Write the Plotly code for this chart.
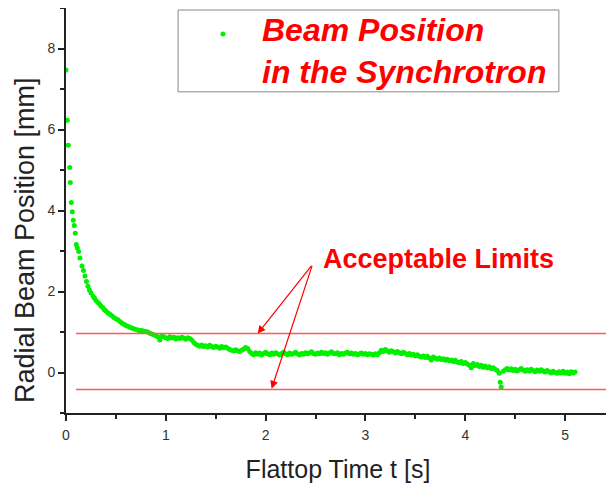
import plotly.graph_objects as go

#%% Data

# flattop time [s] and radial beam position [mm]
t_s = [0.000, 0.013, 0.023, 0.037, 0.043, 0.053, 0.063, 0.073, 0.083, 0.093,
       0.103, 0.113, 0.127, 0.140, 0.160, 0.175, 0.190, 0.205, 0.220, 0.235,
       0.250, 0.270, 0.285, 0.300, 0.320, 0.335, 0.350, 0.370, 0.385, 0.400,
       0.420, 0.440, 0.460, 0.480, 0.500, 0.520, 0.540, 0.560, 0.580, 0.600,
       0.620, 0.640, 0.660, 0.680, 0.700, 0.720, 0.740, 0.760, 0.780, 0.800,
       0.820, 0.840, 0.860, 0.880, 0.900, 0.920, 0.940, 0.960, 0.980,
       1.00, 1.02, 1.04, 1.06, 1.08, 1.10, 1.12, 1.14, 1.16, 1.18,
       1.20, 1.22, 1.24, 1.26, 1.28, 1.30, 1.32, 1.34, 1.36, 1.38,
       1.40, 1.42, 1.44, 1.46, 1.48, 1.50, 1.52, 1.54, 1.56, 1.58,
       1.60, 1.62, 1.64, 1.66, 1.68, 1.70, 1.72, 1.74, 1.76, 1.78,
       1.80, 1.82, 1.84, 1.86, 1.88, 1.90, 1.92, 1.94, 1.96, 1.98,
       2.00, 2.02, 2.04, 2.06, 2.08, 2.10, 2.12, 2.14, 2.16, 2.18,
       2.20, 2.22, 2.24, 2.26, 2.28, 2.30, 2.32, 2.34, 2.36, 2.38,
       2.40, 2.42, 2.44, 2.46, 2.48, 2.50, 2.52, 2.54, 2.56, 2.58,
       2.60, 2.62, 2.64, 2.66, 2.68, 2.70, 2.72, 2.74, 2.76, 2.78,
       2.80, 2.82, 2.84, 2.86, 2.88, 2.90, 2.92, 2.94, 2.96, 2.98,
       3.00, 3.02, 3.04, 3.06, 3.08, 3.10, 3.12, 3.14, 3.16, 3.18,
       3.20, 3.22, 3.24, 3.26, 3.28, 3.30, 3.32, 3.34, 3.36, 3.38,
       3.40, 3.42, 3.44, 3.46, 3.48, 3.50, 3.52, 3.54, 3.56, 3.58,
       3.60, 3.62, 3.64, 3.66, 3.68, 3.70, 3.72, 3.74, 3.76, 3.78,
       3.80, 3.82, 3.84, 3.86, 3.88, 3.90, 3.92, 3.94, 3.96, 3.98,
       4.00, 4.02, 4.04, 4.06, 4.08, 4.10, 4.12, 4.14, 4.16, 4.18,
       4.20, 4.22, 4.24, 4.26, 4.28, 4.30, 4.32, 4.34, 4.35, 4.36,
       4.38, 4.40, 4.42, 4.44, 4.46, 4.48, 4.50, 4.52, 4.54, 4.56,
       4.58, 4.60, 4.62, 4.64, 4.66, 4.68, 4.70, 4.72, 4.74, 4.76,
       4.78, 4.80, 4.82, 4.84, 4.86, 4.88, 4.90, 4.92, 4.94, 4.96,
       4.98, 5.00, 5.02, 5.04, 5.06, 5.08, 5.10]

pos_mm = [7.47, 6.23, 5.61, 5.06, 4.69, 4.20, 3.97, 3.76, 3.63, 3.44,
          3.16, 3.08, 2.99, 2.83, 2.63, 2.52, 2.38, 2.25, 2.13, 2.04,
          1.96, 1.89, 1.84, 1.78, 1.73, 1.69, 1.64, 1.60, 1.55, 1.52,
          1.47, 1.44, 1.40, 1.36, 1.33, 1.30, 1.26, 1.22, 1.19, 1.16,
          1.14, 1.12, 1.10, 1.08, 1.06, 1.05, 1.03, 1.04, 1.02, 1.01,
          1.00, 0.97, 0.95, 0.93, 0.91, 0.88, 0.80, 0.90, 0.88,
          0.86, 0.84, 0.88, 0.85, 0.87, 0.83, 0.86, 0.84, 0.87, 0.85,
          0.82, 0.86, 0.84, 0.80, 0.74, 0.70, 0.67, 0.65, 0.68, 0.64,
          0.66, 0.63, 0.67, 0.64, 0.62, 0.65, 0.63, 0.60, 0.64, 0.61,
          0.63, 0.60, 0.57, 0.55, 0.53, 0.56, 0.54, 0.52, 0.55, 0.58,
          0.62, 0.59, 0.52, 0.47, 0.44, 0.49, 0.45, 0.48, 0.43, 0.47,
          0.50, 0.46, 0.44, 0.48, 0.45, 0.49, 0.46, 0.43, 0.47, 0.50,
          0.46, 0.44, 0.48, 0.45, 0.47, 0.50, 0.46, 0.43, 0.47, 0.45,
          0.49, 0.46, 0.48, 0.51, 0.47, 0.45, 0.48, 0.46, 0.50, 0.47,
          0.49, 0.45, 0.48, 0.51, 0.47, 0.46, 0.49, 0.44, 0.47, 0.45,
          0.48, 0.50, 0.46, 0.48, 0.45, 0.47, 0.44, 0.46, 0.48, 0.45,
          0.47, 0.44, 0.46, 0.45, 0.43, 0.46, 0.44, 0.49, 0.55, 0.52,
          0.57, 0.53, 0.50, 0.54, 0.51, 0.48, 0.52, 0.49, 0.46, 0.50,
          0.47, 0.44, 0.47, 0.43, 0.45, 0.41, 0.44, 0.40, 0.38, 0.41,
          0.37, 0.40, 0.36, 0.31, 0.38, 0.35, 0.33, 0.36, 0.32, 0.34,
          0.30, 0.33, 0.29, 0.31, 0.27, 0.30, 0.26, 0.24, 0.27, 0.22,
          0.25, 0.21, 0.18, 0.12, 0.22, 0.17, 0.20, 0.15, 0.18, 0.13,
          0.16, 0.12, 0.14, 0.10, 0.12, 0.08, 0.05, -0.02, -0.24, -0.36,
          0.03, 0.07, 0.10, 0.06, 0.09, 0.05, 0.08, 0.04, 0.07, 0.10,
          0.06, 0.03, 0.07, 0.04, 0.08, 0.05, 0.02, 0.06, 0.03, 0.07,
          0.04, 0.01, 0.05, 0.02, -0.01, 0.03, 0.00, -0.02, 0.02, -0.01,
          0.03, -0.02, 0.01, -0.03, 0.02, -0.01, 0.01]

# acceptable limits [mm] and where the limit lines run
limits_mm = [0.96, -0.42]
limit_t = [0.1, 5.45]

# arrow tail and arrow heads (time, position)
arrow_tail = (2.47, 2.67)
arrow_heads = [(1.92, 0.96), (2.06, -0.40)]

#%% Plot
# note: the page body has an 8px margin, so figure is 606x479 and l/t are reduced

font_family = 'Arial, Liberation Sans, sans-serif'
red = 'rgb(255,0,0)'

fig = go.Figure()

# legend only carries the marker, the two-line label is an annotation below
fig.add_trace(go.Scatter(
    x=t_s, y=pos_mm, mode='markers',
    marker=dict(color='rgb(0,240,0)', size=5),
    name=' ',
))

for lim in limits_mm:
    fig.add_trace(go.Scatter(
        x=limit_t, y=[lim, lim], mode='lines',
        line=dict(color='rgb(255,90,90)', width=1.5),
        showlegend=False, hoverinfo='skip',
    ))

for hx, hy in arrow_heads:
    fig.add_annotation(
        x=hx, y=hy, ax=arrow_tail[0], ay=arrow_tail[1],
        xref='x', yref='y', axref='x', ayref='y',
        text='', showarrow=True, arrowhead=2, arrowsize=1.3,
        arrowwidth=1.2, arrowcolor=red,
    )

fig.add_annotation(
    x=3.735, y=2.80, xref='x', yref='y', text='<b>Acceptable Limits</b>',
    showarrow=False, font=dict(family=font_family, size=27, color=red),
)

# legend label
fig.add_annotation(
    x=0.357, y=0.894, xref='paper', yref='paper',
    xanchor='left', yanchor='middle', align='left',
    text='<b><i>Beam Position<br>in the Synchrotron</i></b>', showarrow=False,
    font=dict(family=font_family, size=32, color=red),
)

# y title sits a bit below the middle of the axis in the original
fig.add_annotation(
    x=-0.0754, y=0.427, xref='paper', yref='paper', textangle=-90,
    xanchor='center', yanchor='middle',
    text='Radial Beam Position [mm]', showarrow=False,
    font=dict(family=font_family, size=27, color='#222222'),
)

# legend frame
fig.add_shape(
    type='rect', xref='paper', yref='paper',
    x0=0.206, x1=0.906, y0=0.793, y1=0.995,
    line=dict(color='#888888', width=1), fillcolor='white', layer='below',
)

fig.update_layout(
    width=606, height=479,
    margin=dict(l=58, r=4, t=0, b=74),
    paper_bgcolor='white', plot_bgcolor='white',
    font=dict(family=font_family, color='#333333'),
    showlegend=True,
    legend=dict(
        x=0.215, y=0.936, xanchor='left', yanchor='middle',
        bgcolor='rgba(0,0,0,0)', borderwidth=0,
        font=dict(family=font_family, size=10, color=red),
        itemsizing='trace', itemwidth=70,
    ),
)

fig.update_xaxes(
    range=[0, 5.45], showline=True, linecolor='#222222', linewidth=2,
    showgrid=False, zeroline=False, automargin=False,
    ticks='outside', ticklen=6, tickwidth=1.5, tickcolor='#222222',
    dtick=1, tick0=0, ticklabelstandoff=2,
    minor=dict(ticks='outside', ticklen=4, tickwidth=1.5, tickcolor='#222222', dtick=0.5),
    tickfont=dict(size=14, color='#333333'),
    title=dict(text='Flattop Time t [s]', font=dict(size=25, color='#222222'), standoff=19),
)
fig.update_yaxes(
    range=[-1, 9], showline=True, linecolor='#222222', linewidth=2,
    showgrid=False, zeroline=False, automargin=False,
    ticks='outside', ticklen=6, tickwidth=1.5, tickcolor='#222222',
    dtick=2, tick0=0, ticklabelstandoff=0,
    minor=dict(ticks='outside', ticklen=4, tickwidth=1.5, tickcolor='#222222', dtick=1),
    tickfont=dict(size=14, color='#333333'),
)

fig.write_html("out.html")
